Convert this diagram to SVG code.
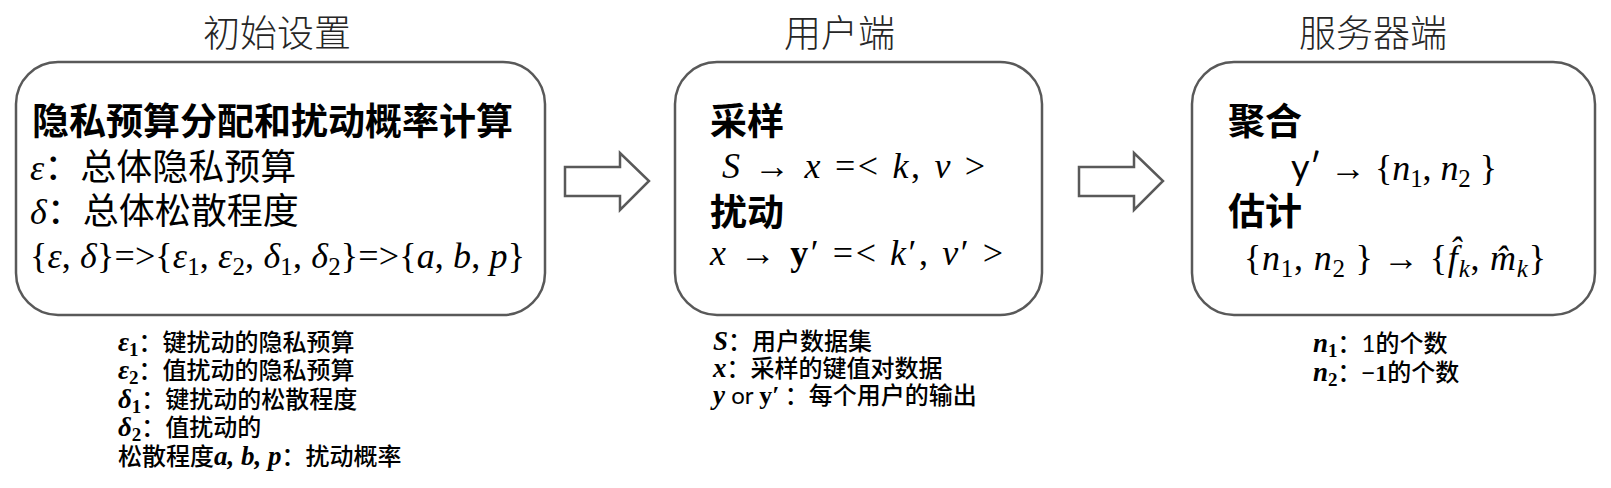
<svg xmlns="http://www.w3.org/2000/svg" width="1611" height="488" viewBox="0 0 1611 488">
<style>
.box{fill:#fff;stroke:#595959;stroke-width:2.5}
.arr{fill:#fff;stroke:#595959;stroke-width:2.5;stroke-linejoin:miter}
.title{font-family:"Noto Sans CJK SC",sans-serif;font-weight:300;font-size:37px;fill:#262626}
.h{font-family:"Noto Sans CJK SC",sans-serif;font-weight:700;font-size:37px;fill:#000}
.t{font-family:"Noto Sans CJK SC",sans-serif;font-weight:400;font-size:36px;fill:#000}
.m{font-family:"Liberation Serif",serif;font-size:36px;fill:#000}
.i{font-style:italic}
.sub{font-size:25px}
.lb{font-family:"Noto Sans CJK SC",sans-serif;font-weight:500;font-size:24px;fill:#000}
.lm{font-family:"Liberation Serif",serif;font-style:italic;font-weight:700;font-size:27px}
.lsub{font-family:"Liberation Serif",serif;font-weight:700;font-size:19px}
.ln{font-family:Lato,"Liberation Sans",sans-serif;font-weight:400}
</style>
<g id="title-setup"><text class="title" x="203" y="47">初始设置</text></g>
<g id="title-user"><text class="title" x="784" y="47">用户端</text></g>
<g id="title-server"><text class="title" x="1299" y="47">服务器端</text></g>

<g id="connectors">
<polygon class="arr" points="565,167 620,167 620,153 649,181 620,210 620,196 565,196"/>
<polygon class="arr" points="1079,167 1134,167 1134,153 1163,181 1134,210 1134,196 1079,196"/>
</g>

<g id="node-setup">
<rect class="box" x="16" y="62" width="529" height="253" rx="42"/>
<text class="h" x="32" y="135">隐私预算分配和扰动概率计算</text>
<text class="t" x="30" y="180"><tspan class="m i">ε</tspan>：总体隐私预算</text>
<text class="t" x="30" y="224"><tspan class="m i">δ</tspan>：总体松散程度</text>
<text class="m" x="30" y="268" textLength="495" lengthAdjust="spacing">{<tspan class="i">ε</tspan>, <tspan class="i">δ</tspan>}=&gt;{<tspan class="i">ε</tspan><tspan class="sub" dy="7">1</tspan><tspan dy="-7">, </tspan><tspan class="i">ε</tspan><tspan class="sub" dy="7">2</tspan><tspan dy="-7">, </tspan><tspan class="i">δ</tspan><tspan class="sub" dy="7">1</tspan><tspan dy="-7">, </tspan><tspan class="i">δ</tspan><tspan class="sub" dy="7">2</tspan><tspan dy="-7">}=&gt;{</tspan><tspan class="i">a</tspan>, <tspan class="i">b</tspan>, <tspan class="i">p</tspan>}</text>
</g>

<g id="note-setup">
<text class="lb" x="118" y="351"><tspan class="lm">ε</tspan><tspan class="lsub" dy="5">1</tspan><tspan dy="-5">：键扰动的隐私预算</tspan></text>
<text class="lb" x="118" y="379"><tspan class="lm">ε</tspan><tspan class="lsub" dy="5">2</tspan><tspan dy="-5">：值扰动的隐私预算</tspan></text>
<text class="lb" x="118" y="408"><tspan class="lm">δ</tspan><tspan class="lsub" dy="5">1</tspan><tspan dy="-5">：键扰动的松散程度</tspan></text>
<text class="lb" x="118" y="436"><tspan class="lm">δ</tspan><tspan class="lsub" dy="5">2</tspan><tspan dy="-5">：值扰动的</tspan></text>
<text class="lb" x="118" y="465">松散程度<tspan class="lm">a</tspan><tspan class="lm" font-style="normal">, </tspan><tspan class="lm">b</tspan><tspan class="lm" font-style="normal">, </tspan><tspan class="lm">p</tspan>：扰动概率</text>
</g>

<g id="node-user">
<rect class="box" x="675" y="62" width="367" height="253" rx="42"/>
<text class="h" x="710" y="135">采样</text>
<text class="m" x="722" y="178" textLength="263" lengthAdjust="spacing"><tspan class="i">S</tspan> → <tspan class="i">x</tspan> =&lt; <tspan class="i">k</tspan>, <tspan class="i">v</tspan> &gt;</text>
<text class="h" x="710" y="226">扰动</text>
<text class="m" x="710" y="265" textLength="293" lengthAdjust="spacing"><tspan class="i">x</tspan> → <tspan font-weight="700">y</tspan>′ =&lt; <tspan class="i">k</tspan>′, <tspan class="i">v</tspan>′ &gt;</text>
</g>

<g id="note-user">
<text class="lb" x="713" y="350"><tspan class="lm">S</tspan>：用户数据集</text>
<text class="lb" x="713" y="377"><tspan class="lm">x</tspan>：采样的键值对数据</text>
<text class="lb" x="713" y="404"><tspan class="lm">y</tspan><tspan class="ln"> or </tspan><tspan font-family="Liberation Serif,serif" font-weight="700" font-size="26px">y′</tspan> ：每个用户的输出</text>
</g>

<g id="node-server">
<rect class="box" x="1192" y="62" width="403" height="253" rx="42"/>
<text class="h" x="1228" y="135">聚合</text>
<text class="m" x="1291" y="180" textLength="206" lengthAdjust="spacing"><tspan class="ln">y′</tspan> → {<tspan class="i">n</tspan><tspan class="sub" dy="7">1</tspan><tspan dy="-7">, </tspan><tspan class="i">n</tspan><tspan class="sub" dy="7">2</tspan><tspan dy="-7"> }</tspan></text>
<text class="h" x="1228" y="225">估计</text>
<text class="m" x="1244" y="270" textLength="302" lengthAdjust="spacing">{<tspan class="i">n</tspan><tspan class="sub" dy="7">1</tspan><tspan dy="-7">, </tspan><tspan class="i">n</tspan><tspan class="sub" dy="7">2</tspan><tspan dy="-7"> } → {</tspan><tspan class="i">f̂</tspan><tspan class="sub i" dy="7">k</tspan><tspan dy="-7">, </tspan><tspan class="i">m̂</tspan><tspan class="sub i" dy="7">k</tspan><tspan dy="-7">}</tspan></text>
</g>

<g id="note-server">
<text class="lb" x="1313" y="352"><tspan class="lm">n</tspan><tspan class="lsub" dy="5">1</tspan><tspan dy="-5">：</tspan><tspan class="ln">1</tspan>的个数</text>
<text class="lb" x="1313" y="381"><tspan class="lm">n</tspan><tspan class="lsub" dy="5">2</tspan><tspan dy="-5">：</tspan><tspan font-family="Liberation Serif,serif" font-weight="700">−1</tspan>的个数</text>
</g>
</svg>
